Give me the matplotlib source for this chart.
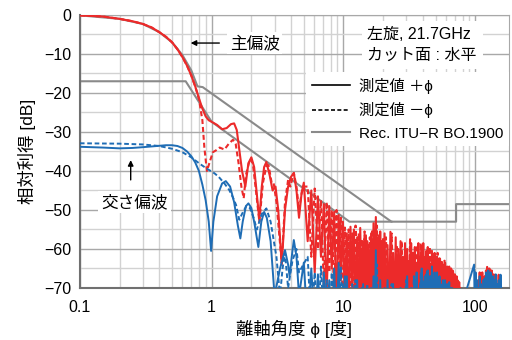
import numpy as np
import matplotlib.pyplot as plt
from matplotlib.lines import Line2D
from matplotlib.ticker import FixedLocator, MultipleLocator, LogLocator, NullFormatter

plt.rcParams['font.family'] = ['Liberation Sans', 'Noto Sans CJK JP', 'DejaVu Sans']

# near-in part of the measured patterns: off-axis angle [deg], relative gain [dB]
co_p_ang = [0.1, 0.15, 0.2, 0.25, 0.3, 0.35, 0.4, 0.45, 0.5, 0.55,
            0.6, 0.65, 0.7, 0.75, 0.8, 0.85, 0.9, 0.95, 1.0, 1.1,
            1.2, 1.3, 1.4, 1.48, 1.55, 1.62, 1.7, 1.8, 1.9, 2.0,
            2.1, 2.2, 2.3, 2.4, 2.5, 2.6, 2.75, 2.9, 3.05, 3.2,
            3.4, 3.6, 3.8, 4.0, 4.2, 4.4, 4.6, 4.8]
co_p_db = [-0.1, -0.4, -1.0, -1.6, -2.3, -3.2, -4.4, -5.6, -7.0, -8.8,
           -10.8, -13.0, -15.5, -18.3, -21.3, -24.0, -26.0, -27.0, -27.4, -28.2,
           -29.3, -29.0, -28.0, -27.8, -29.5, -34.5, -40.0, -44.0, -38.0, -36.5,
           -39.0, -46.0, -52.5, -44.0, -39.0, -37.7, -41.0, -45.0, -44.0, -50.0,
           -64.0, -50.0, -44.0, -41.5, -40.5, -45.0, -52.0, -46.0]

co_m_ang = [0.1, 0.15, 0.2, 0.25, 0.3, 0.35, 0.4, 0.45, 0.5, 0.55,
            0.6, 0.65, 0.7, 0.75, 0.8, 0.85, 0.88, 0.92, 0.96, 1.02,
            1.08, 1.15, 1.25, 1.35, 1.45, 1.52, 1.6, 1.68, 1.75, 1.82,
            1.95, 2.05, 2.15, 2.3, 2.45, 2.6, 2.7, 2.85, 2.95, 3.1,
            3.4, 3.6, 3.8, 3.95, 4.2, 4.4, 4.6, 4.9]
co_m_db = [-0.1, -0.4, -1.0, -1.6, -2.3, -3.2, -4.4, -5.6, -7.0, -8.8,
           -10.8, -13.0, -15.5, -18.3, -21.5, -27.0, -34.0, -40.0, -38.0, -35.2,
           -34.7, -34.0, -34.5, -33.0, -32.0, -33.0, -38.0, -44.0, -47.0, -41.0,
           -37.0, -38.0, -44.0, -53.0, -43.0, -38.8, -38.5, -43.0, -43.0, -48.0,
           -63.6, -48.0, -42.3, -44.0, -40.5, -44.0, -50.0, -44.0]

cx_p_ang = [0.1, 0.15, 0.2, 0.25, 0.3, 0.35, 0.4, 0.45, 0.5, 0.55,
            0.6, 0.65, 0.7, 0.75, 0.8, 0.85, 0.9, 0.95, 0.99, 1.03,
            1.1, 1.2, 1.28, 1.38, 1.48, 1.58, 1.65, 1.72, 1.82, 1.9,
            2.0, 2.1, 2.26, 2.38, 2.5, 2.62, 2.8, 3.0, 3.3, 3.6,
            3.8, 3.9, 4.05, 4.2, 4.4, 4.6]
cx_p_db = [-33.8, -34.0, -34.2, -34.1, -33.9, -33.7, -33.5, -33.4, -33.4, -33.6,
           -34.1, -35.0, -36.2, -37.8, -40.0, -43.5, -47.5, -53.0, -60.5, -53.0,
           -46.5, -43.2, -42.6, -44.0, -48.0, -54.0, -57.3, -53.0, -49.0, -48.3,
           -49.5, -53.0, -59.5, -53.0, -50.5, -52.0, -58.0, -72.0, -65.0, -60.3,
           -64.0, -67.0, -62.0, -57.7, -62.0, -72.0]

cx_m_ang = [0.1, 0.2, 0.3, 0.4, 0.5, 0.6, 0.7, 0.8, 0.9, 0.95,
            1.05, 1.13, 1.25, 1.36, 1.45, 1.53, 1.62, 1.7, 1.83, 1.95,
            2.08, 2.2, 2.4, 2.6, 2.8, 3.1, 3.3, 3.45, 3.6, 3.8,
            4.1, 4.4, 4.6]
cx_m_db = [-32.9, -33.0, -33.2, -33.6, -34.3, -35.2, -36.5, -38.0, -39.2, -39.7,
           -40.6, -41.5, -43.2, -44.9, -46.8, -48.7, -52.5, -51.0, -49.0, -49.5,
           -52.0, -55.0, -51.0, -49.6, -53.0, -62.0, -72.0, -65.0, -61.0, -70.0,
           -63.0, -60.0, -66.0]

# far sidelobes: lobe peaks on the measurement grid, nulls fall below the axis
floor_db = -80.0
co_p_a_pk = [-43, -45, -46.5, -48.5, -49, -50.5, -51.3, -53, -56, -54.3, -55,
             -57, -54.6, -58, -56.5, -59, -56, -53.4, -51.8, -57, -55.5, -58]
co_p_a_nl = [-58, -66, -62, -72, -65, -75, -68, -74, -78, -70, -76,
             -80, -73, -78, -80, -76, -80, -78, -75, -80, -78, -80]
co_m_a_pk = [-44, -44.5, -47.5, -48, -50, -50, -52, -54.5, -55, -56, -54,
             -56, -57.5, -55.5, -58, -57, -55, -56.5, -54, -56, -58, -57]
co_m_a_nl = [-62, -60, -70, -66, -74, -70, -78, -72, -80, -75, -78,
             -80, -76, -80, -78, -80, -80, -76, -80, -78, -80, -80]
co_p_b_pk = [-56, -59, -55.6, -61, -57, -60, -58, -62, -58.5, -60, -63,
             -58.5, -61, -59.5, -64, -58.5, -62, -60, -58.5, -63, -60.5,
             -59.5, -62, -64, -60.5, -62.5, -61, -65, -62, -63.5, -62.4,
             -66, -63.3, -64, -67, -63.5, -65, -64.5, -68, -64.5, -66,
             -65, -69, -65.8, -67, -66.5, -70, -67, -68, -72, -68.5,
             -70, -75, -72, -76]
co_m_b_pk = [-57, -56, -59, -58, -60, -57.5, -61, -59, -58.5, -62, -60,
             -59.5, -61.5, -63, -61, -62.5, -64, -63, -65, -64.5, -66,
             -65.5, -67, -68, -69, -71, -74]
co_p_c_pk = [-75, -72, -70, -68, -66, -67.5, -66, -69, -67, -65.5, -64.6,
             -66, -65, -67, -65.5, -68, -66.5, -70, -67, -72, -69, -66.6,
             -71, -73, -75, -78]

cx_p_a_pk = [-63.5, -65, -66.5, -66, -68, -65, -63.6, -69, -67, -72, -70,
             -68, -73, -69, -71, -75, -70, -67, -60.3, -72, -68, -74]
cx_m_a_pk = [-62, -66, -64.5, -68, -66, -70, -64.5, -67, -72, -69, -68,
             -74, -70, -72, -69, -75, -72, -70, -64, -71, -73, -76]
cx_p_b_pk = [-70, -68, -74, -69, -72, -76, -70, -73, -71, -67, -72,
             -70, -74, -68, -66, -71, -69, -65, -70, -67, -66.5,
             -65.5, -69, -67, -64.5, -68, -66, -70, -66, -72, -67,
             -69, -71, -68, -70, -68, -73, -69, -72, -68.5, -71,
             -74, -70, -75, -72, -78]
cx_m_b_pk = [-71, -69, -73, -70, -68, -72, -67, -70, -66, -68, -65.5,
             -67, -69, -66.5, -70, -68, -72, -69, -71, -73, -70, -75, -78]
cx_p_c_pk = [-64, -66, -68, -70, -67, -69, -71, -68, -67.5, -66, -68,
             -65.5, -67, -66, -69, -67, -70, -68, -66.5, -72, -69, -68,
             -71, -66.6, -70, -73, -72, -78]

# Rec. ITU-R BO.1900 reference patterns
mask1_ang = [0.1, 0.2, 0.3, 0.4, 0.5, 0.55, 0.6, 0.7, 0.78, 0.855, 23.1, 71.5, 71.5, 180]
mask1_db = [-0.1, -1.0, -2.3, -4.4, -7.0, -8.7, -10.3, -14.2, -18.3, -18.5,
            -53, -53, -48.5, -48.5]
mask2_ang = [0.1, 0.635, 1.0, 11.1, 23.1]
mask2_db = [-17, -17, -27.4, -53, -53]


def far(start, step, peaks, nulls):
    a = start + step * np.arange(len(peaks))
    nl = np.broadcast_to(np.asarray(nulls, float), a.shape)
    x = np.column_stack([a, a + step / 2]).ravel()
    y = np.column_stack([peaks, nl]).ravel()
    return x, y


def series(ang, db, parts):
    xs, ys = [np.asarray(ang, float)], [np.asarray(db, float)]
    for p in parts:
        x, y = far(*p)
        xs.append(x)
        ys.append(y)
    return np.concatenate(xs), np.concatenate(ys)


co_p = series(co_p_ang, co_p_db, [(5.0, 0.7, co_p_a_pk, co_p_a_nl),
                                  (20.5, 1.1, co_p_b_pk, floor_db),
                                  (98.0, 2.5, co_p_c_pk, floor_db)])
co_m = series(co_m_ang, co_m_db, [(5.35, 0.7, co_m_a_pk, co_m_a_nl),
                                  (21.0, 2.2, co_m_b_pk, floor_db)])
cx_p = series(cx_p_ang, cx_p_db, [(5.0, 0.7, cx_p_a_pk, floor_db),
                                  (20.5, 1.1, cx_p_b_pk, floor_db),
                                  (98.0, 2.5, cx_p_c_pk, floor_db)])
cx_m = series(cx_m_ang, cx_m_db, [(5.35, 0.7, cx_m_a_pk, floor_db),
                                  (21.0, 2.2, cx_m_b_pk, floor_db)])

red = '#ec2a2a'
blue = '#1f6db5'
gray = '#8a8a8a'
dash = (0, (2.4, 1.4))

fig = plt.figure(figsize=(5.12, 3.4), dpi=100)
ax = fig.add_axes([0.156, 0.153, 0.838, 0.803])

ax.plot(mask1_ang, mask1_db, color=gray, lw=1.5, zorder=2)
ax.plot(mask2_ang, mask2_db, color=gray, lw=1.5, zorder=2)
ax.plot(*co_p, color=red, lw=1.5, zorder=3)
ax.plot(*co_m, color=red, lw=1.5, ls=dash, zorder=3)
ax.plot(*cx_p, color=blue, lw=1.4, zorder=4)
ax.plot(*cx_m, color=blue, lw=1.4, ls=dash, zorder=4)

ax.set_xscale('log')
ax.set_xlim(0.1, 180)
ax.set_ylim(-70, 0)
ax.xaxis.set_major_locator(FixedLocator([0.1, 1, 10, 100]))
ax.xaxis.set_minor_locator(LogLocator(base=10, subs=np.arange(2, 10)))
ax.xaxis.set_minor_formatter(NullFormatter())
ax.set_xticklabels(['0.1', '1', '10', '100'])
ax.yaxis.set_major_locator(MultipleLocator(10))
ax.yaxis.set_minor_locator(MultipleLocator(5))
ax.grid(which='major', color='#a8a8a8', lw=1.0)
ax.grid(which='minor', color='#d2d2d2', lw=1.0)
ax.set_axisbelow(True)
ax.tick_params(which='both', length=0, labelsize=11.5)
ax.tick_params(axis='x', pad=9)
ax.tick_params(axis='y', pad=6)
for s in ['top', 'right']:
    ax.spines[s].set_color('#a8a8a8')
for s in ['left', 'bottom']:
    ax.spines[s].set_color('#707070')
    ax.spines[s].set_linewidth(1.5)

ax.set_xlabel('離軸角度 ϕ [度]', fontsize=12.5, labelpad=3)
ax.set_ylabel('相対利得 [dB]', fontsize=12.5, labelpad=6)

box = dict(facecolor='white', edgecolor='none', pad=2)
ax.annotate('', xy=(0.66, -7.2), xytext=(1.2, -7.2),
            arrowprops=dict(arrowstyle='-|>', color='black', lw=1, mutation_scale=8))
ax.text(1.37, -7.2, '主偏波', fontsize=12, va='center', ha='left', bbox=box)
ax.annotate('', xy=(0.243, -36.5), xytext=(0.243, -43),
            arrowprops=dict(arrowstyle='-|>', color='black', lw=1, mutation_scale=8))
ax.text(0.26, -48, '交さ偏波', fontsize=12, va='center', ha='center', bbox=box)
ax.text(15.2, -7.7, '左旋, 21.7GHz\nカット面 : 水平', fontsize=11.5, va='center',
        ha='left', linespacing=1.5, bbox=dict(facecolor='white', edgecolor='none', pad=4))

handles = [Line2D([], [], color='black', lw=1.2),
           Line2D([], [], color='black', lw=1.2, ls=(0, (2.4, 1.4))),
           Line2D([], [], color=gray, lw=1.5)]
labels = ['測定値 ＋ϕ', '測定値 －ϕ', 'Rec. ITU−R BO.1900']
leg = ax.legend(handles, labels, loc='upper right', bbox_to_anchor=(1.0, 0.79),
                borderaxespad=0, fontsize=11, frameon=True, fancybox=False,
                framealpha=1, edgecolor='none', handlelength=2.5,
                handletextpad=0.6, labelspacing=0.55, borderpad=0.35)
leg.set_zorder(6)

fig.savefig('out.png', dpi=100)
